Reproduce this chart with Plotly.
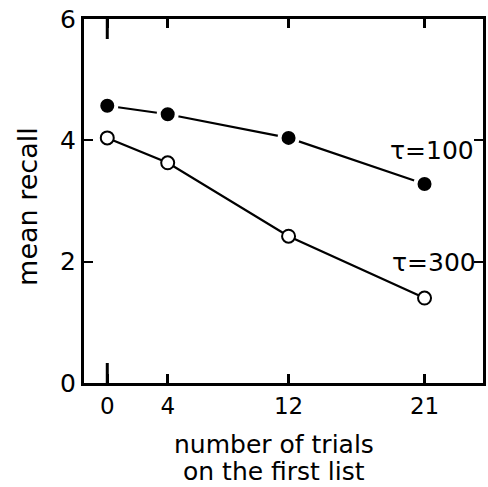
import plotly.graph_objects as go

trials = [0, 4, 12, 21]
recall_tau100 = [4.57, 4.43, 4.04, 3.28]
recall_tau300 = [4.04, 3.63, 2.42, 1.40]
x_ticks = [0, 4, 12, 21]
y_ticks = [0, 2, 4, 6]

FONT = "DejaVu Sans"

fig = go.Figure()
fig.add_trace(go.Scatter(
    x=trials, y=recall_tau300, mode="lines+markers",
    line=dict(color="black", width=2.2),
    marker=dict(size=13, color="white", line=dict(color="black", width=2)),
    showlegend=False, cliponaxis=False))
fig.add_trace(go.Scatter(
    x=trials, y=recall_tau100, mode="lines+markers",
    line=dict(color="black", width=2.2),
    marker=dict(size=18, color="black", line=dict(color="white", width=4)),
    showlegend=False, cliponaxis=False))

fig.update_layout(
    width=488, height=487,
    margin=dict(l=84, r=2, t=19, b=104),
    paper_bgcolor="white", plot_bgcolor="white",
    font=dict(family=FONT, color="black", size=22),
)
fig.update_xaxes(
    range=[-1.54, 24.87], tickvals=x_ticks, ticktext=[str(v) for v in x_ticks],
    ticks="inside", ticklen=9, tickwidth=3, tickcolor="black",
    showline=True, linewidth=3, linecolor="black", mirror="ticks",
    showgrid=False, zeroline=False, tickfont=dict(size=23))
fig.update_yaxes(
    range=[0, 6], tickvals=y_ticks, ticktext=[str(v) for v in y_ticks],
    ticks="inside", ticklen=9, tickwidth=2, tickcolor="black",
    showline=True, linewidth=3, linecolor="black", mirror="ticks",
    showgrid=False, zeroline=False, tickfont=dict(size=25))

# longer tick at x=0
for y0, y1 in [(0, 0.055), (1, 0.945)]:
    fig.add_shape(type="line", xref="x", yref="y domain", x0=0, x1=0, y0=y0, y1=y1,
                  line=dict(color="black", width=3))

fig.add_annotation(x=21.5, y=3.84, xref="x", yref="y", text="τ=100",
                   showarrow=False, font=dict(size=25))
fig.add_annotation(x=21.6, y=1.98, xref="x", yref="y", text="τ=300",
                   showarrow=False, font=dict(size=25))

title_lines = ["number of trials", "on the first list"]
for line, yp in zip(title_lines, [-0.168, -0.242]):
    fig.add_annotation(x=(275 - 84) / 402, y=yp, xref="paper", yref="paper",
                       text=line, showarrow=False, yanchor="middle",
                       font=dict(size=25))
fig.add_annotation(x=-0.184, y=0.484, xref="paper", yref="paper", text="mean recall",
                   textangle=-90, showarrow=False, font=dict(size=27))

fig.write_html("out.html")
